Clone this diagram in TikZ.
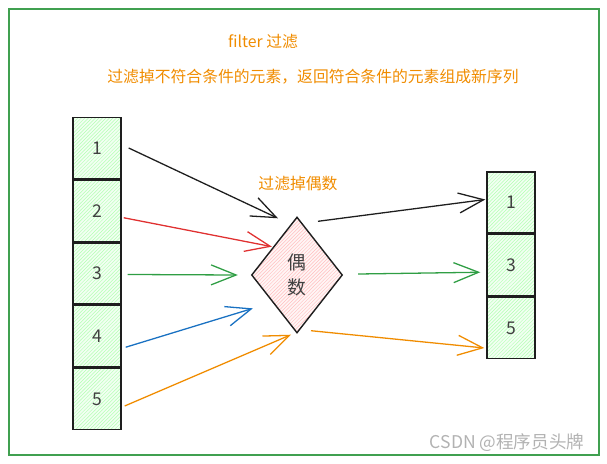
\documentclass[tikz,border=0pt]{standalone}
\usepackage{fontspec}
\setmainfont{Noto Sans CJK SC}
\usepackage{xcolor}
\usetikzlibrary{arrows.meta,positioning,calc,shapes.geometric,patterns}

\definecolor{ink}{HTML}{1E1E1E}
\definecolor{penred}{HTML}{E03131}
\definecolor{pengreen}{HTML}{2F9E44}
\definecolor{penblue}{HTML}{1971C2}
\definecolor{penorange}{HTML}{F08C00}
\definecolor{framegreen}{HTML}{40A050}

\begin{document}
\begin{tikzpicture}[
                x=0.03cm, y=-0.03cm,
                cell/.style={draw=ink, line width=1.2pt, minimum width=1.44cm, minimum height=1.84cm,
                    inner sep=0pt, preaction={fill=green!5}, pattern=north east lines, pattern color=green!30,
                    font=\fontsize{15}{18}\selectfont, text=ink!85},
                test/.style={draw=ink, line width=1.2pt, diamond, minimum width=2.73cm, minimum height=3.48cm,
                    inner sep=0pt, preaction={fill=red!4}, pattern=north east lines, pattern color=red!25,
                    align=center, font=\fontsize{16}{21}\selectfont, text=ink!85},
                note/.style={text=penorange, font=\fontsize{13.5}{16}\selectfont},
                arr/.style={-{Straight Barb[length=7.5mm, width=6mm]}, line width=1.1pt}
            ]
            \useasboundingbox (0,0) rectangle (607,463);
            \draw[framegreen, line width=1pt] (9,9) rectangle (599,455);
            \node[note] (title) at (263,42) {filter 过滤};
            \node[note] (desc) at (313,77) {过滤掉不符合条件的元素，返回符合条件的元素组成新序列};
            % input sequence
            \node[cell] (l1) at (97,148) {1};
            \node[cell, below=0pt of l1] (l2) {2};
            \node[cell, below=0pt of l2] (l3) {3};
            \node[cell, below=0pt of l3] (l4) {4};
            \node[cell, below=0pt of l4] (l5) {5};
            % filter
            \node[test] (dia) at (297,275) {偶\\数};
            \node[note] (rule) at (298,184) {过滤掉偶数};
            % output sequence
            \node[cell] (r1) at (511,202.5) {1};
            \node[cell, below=0pt of r1] (r3) {3};
            \node[cell, below=0pt of r3] (r5) {5};
            \draw[arr, ink] ($(l1.east)+(7,0)$) -- ($(dia.north)+(-19,2)$);
            \draw[arr, penred] ($(l2.east)+(2,7)$) -- ($(dia.north west)+(-2,1)$);
            \draw[arr, pengreen] ($(l3.east)+(6,1)$) -- ($(dia.west)+(-13,0)$);
            \draw[arr, penblue] ($(l4.east)+(4,11)$) -- ($(dia.south west)+(-21,4)$);
            \draw[arr, penorange] ($(l5.east)+(3,7)$) -- ($(dia.south)+(-6,1)$);
            \draw[arr, ink] ($(dia.north)+(21,5)$) -- ($(r1.west)+(-1,-3)$);
            \draw[arr, pengreen] ($(dia.east)+(15,-1)$) -- ($(r3.west)+(-6,7)$);
            \draw[arr, penorange] ($(dia.south)+(14,-3)$) -- ($(r5.west)+(-2,20)$);
            \node[text=gray!60, font=\fontsize{15}{18}\selectfont] (mark) at (507,443) {CSDN @程序员头牌};
        \end{tikzpicture}
\end{document}
